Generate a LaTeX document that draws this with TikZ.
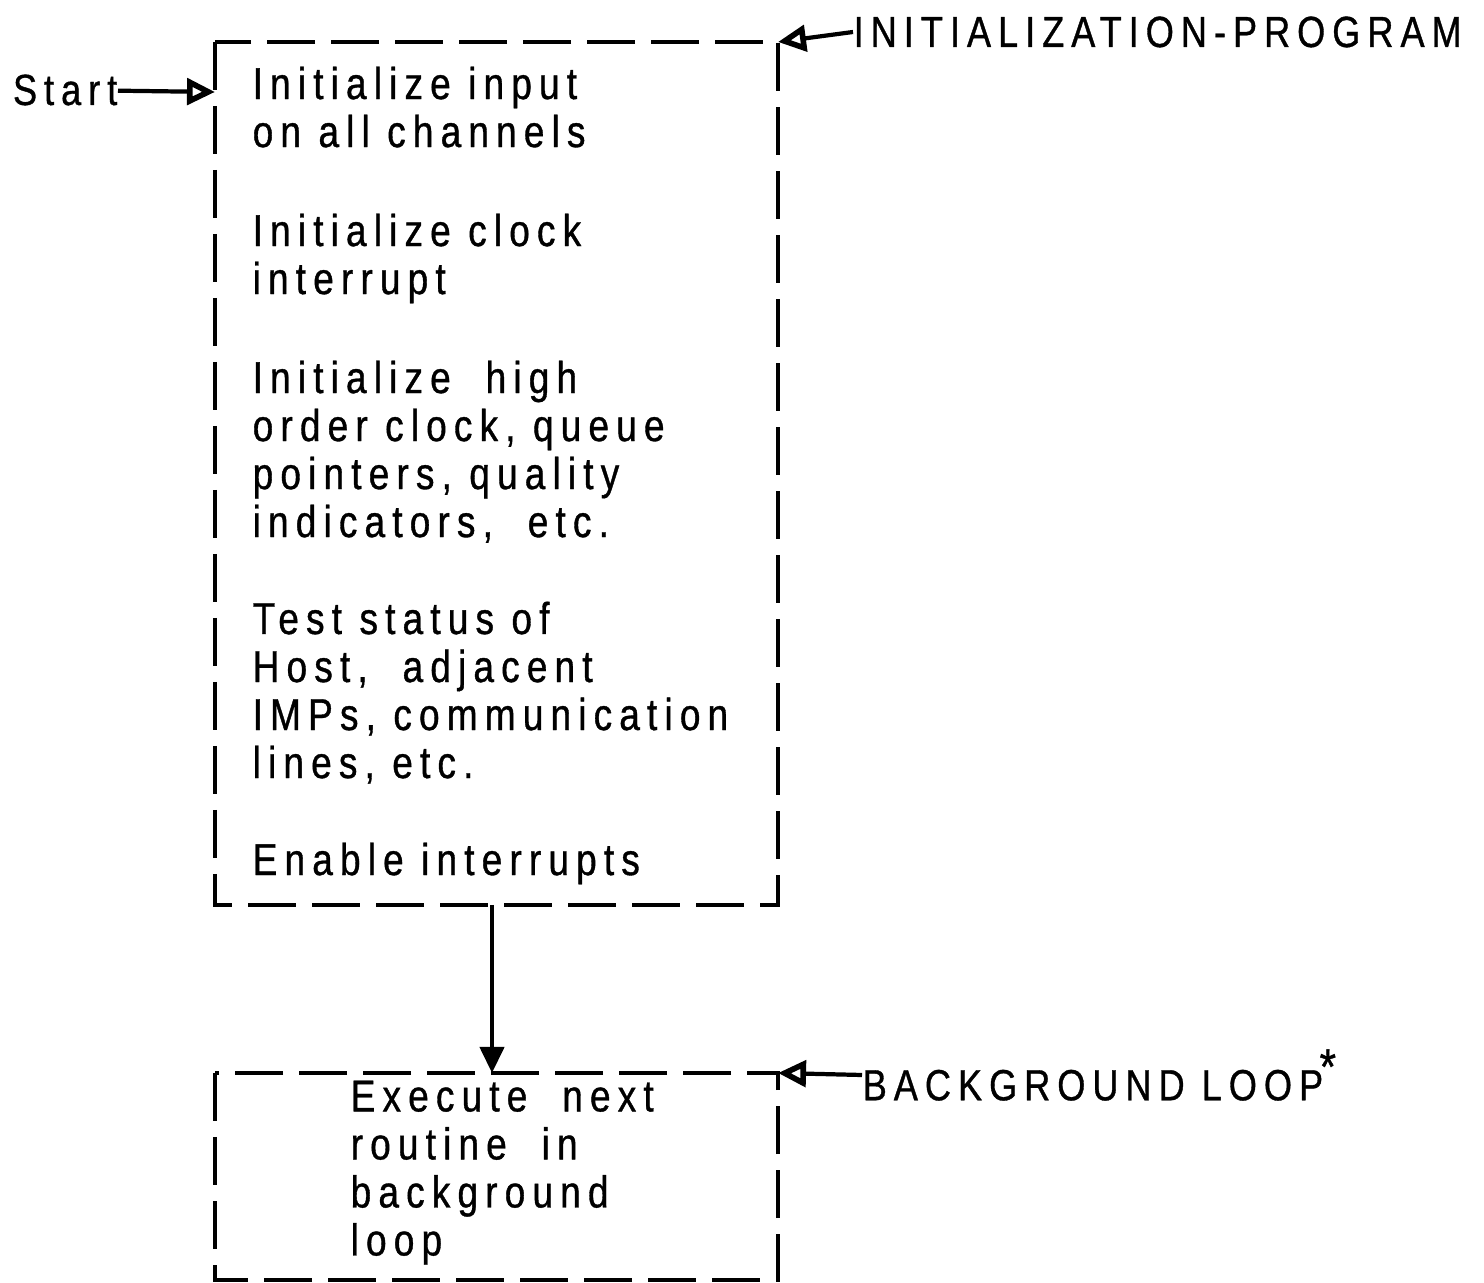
\documentclass[tikz,border=0pt]{standalone}
\usepackage{fontspec}
\setmainfont[FakeStretch=0.83,LetterSpace=16,FakeBold=0.8]{Liberation Sans}
\usepackage{tikz}
\usetikzlibrary{arrows.meta,positioning}
\tikzset{
  frame/.style={draw=black,line width=1.2pt,dash pattern=on 4.8mm off 1.6mm},
  flow/.style={-{Triangle[length=2.6mm,width=2.4mm]},line width=1.2pt},
  openflow/.style={-{Triangle[open,length=2.8mm,width=2.6mm,line width=1.6pt]},line width=1.2pt},
  para/.style={anchor=north west,align=left,inner sep=0pt,
               font=\fontsize{12.7}{13.66}\selectfont},
  lab/.style={inner sep=0pt,font=\fontsize{12.4}{13.66}\selectfont},
}
\begin{document}
\begin{tikzpicture}[x=1cm,y=1cm]
  \path[use as bounding box] (0,0) rectangle (14.84,-12.83);

  % initialization program
  \draw[frame] (2.15,-0.42) rectangle (7.78,-9.05);
  \coordinate (initnw) at (2.15,-0.92);
  \coordinate (initne) at (7.78,-0.42);
  \coordinate (inits) at (4.92,-9.05);

  \node[para] (inpt) at (2.52,-0.66) {Initialize input\\on all channels};
  \node[para] (clck) at (2.52,-2.13) {Initialize clock\\interrupt};
  \node[para] (high) at (2.52,-3.60) {Initialize\ \ high\\order clock, queue\\pointers, quality\\indicators,\ \ etc.};
  \node[para] (test) at (2.52,-6.01) {Test status of\\Host,\ \ adjacent\\IMPs, communication\\lines, etc.};
  \node[para] (enbl) at (2.52,-8.42) {Enable interrupts};

  \node[lab,anchor=east] (start) at (1.18,-0.90) {Start};
  \draw[openflow] (start) -- (initnw);

  \node[lab,anchor=west] (initlab) at (8.53,-0.32) {INITIALIZATION-PROGRAM};
  \draw[openflow] (initlab.west) -- (initne);

  % background loop
  \draw[frame] (2.15,-10.73) rectangle (7.78,-12.80);
  \coordinate (loopn) at (4.92,-10.73);
  \coordinate (loopne) at (7.78,-10.73);
  \node[para] (exec) at (3.50,-10.80) {Execute\ \ next\\routine\ \ in\\background\\loop};

  \node[lab,anchor=west] (looplab) at (8.62,-10.75) {BACKGROUND LOOP\kern-1pt\raisebox{0.7ex}{\Large *}};
  \draw[openflow] (looplab.west) -- (loopne);

  \draw[flow] (inits) -- (loopn);
\end{tikzpicture}
\end{document}
